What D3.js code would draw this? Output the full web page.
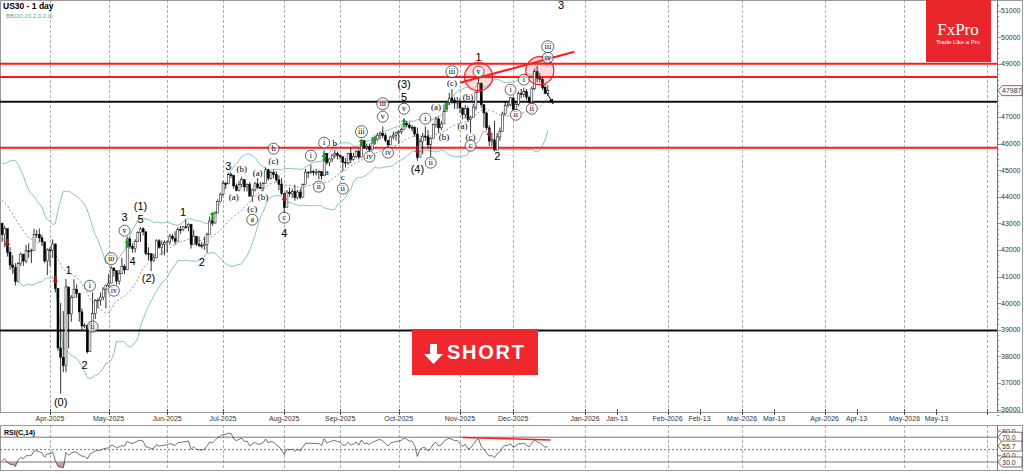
<!DOCTYPE html>
<html>
<head>
<meta charset="utf-8">
<script src="https://cdn.jsdelivr.net/npm/d3@7"></script>
<style>
  body { margin: 0; background: #fff; }
  svg { display: block; font-family: "Liberation Sans", Arial, sans-serif; }
  .axis-label { font-size: 7px; fill: #333; }
  .wave-n { font-size: 11px; fill: #000; }
  .wave-p { font-family: "Liberation Serif", "Times New Roman", serif; font-size: 9px; fill: #000; }
  .wave-c { font-family: "Liberation Serif", "Times New Roman", serif; font-size: 8px; fill: #000; }
</style>
</head>
<body>
<svg id="chart" width="1024" height="474"></svg>
<script>
// ---- data ----
var warmupCloses = [44873,44747,44303,44470,44593,44368,44711,44546,44560,44556,44628,44177,43428,43461,43621,43433,43240,43841,43191,42521,43006];

// daily bars, 2025-03-06 .. 2025-12-18 (weekdays)
var closes = [
  42579,42802,41912,41433,41350,40813,41488,41841,41581,41965,41953,41985,42583,42587,42455,42300,41584,42002,
  41989,42226,40545,38315,37966,37646,40609,39594,40213,40524,40368,39669,39142,39150,38170,39187,39606,40093,40113,40227,40527,40669,
  40752,41317,41218,40829,41113,41368,41249,42410,42140,42051,42322,42654,42792,42677,41860,41859,41603,41700,42343,42098,42215,42270,
  42305,42519,42427,42319,42762,42761,42867,42865,42967,42197,42515,42215,42171,42150,42206,42581,43089,43008,43386,43819,44094,
  44494,44484,44828,44800,44406,44240,44458,44650,44371,44459,44023,44254,44484,44342,44323,44502,45010,44693,44901,44837,44632,44461,44130,
  43588,44173,44111,44193,43968,44175,43975,44458,44922,44911,44946,44912,44922,44938,44785,45631,45282,45418,45565,45636,45545,
  45500,45295,45271,45621,45401,45514,45711,45490,46108,45834,45883,45758,46018,46142,46315,46381,46292,46121,45947,46247,46316,46398,
  46441,46519,46758,46695,46603,46602,46358,45479,46068,46270,46253,45952,46191,46707,46924,46590,46735,47207,47545,47706,47632,47522,47563,
  47337,47085,47311,46912,46987,47368,47928,48254,47457,47147,46590,46092,46138,45752,46245,46448,47112,47427,47450,47716,
  47289,47474,47882,47851,47955,47739,47560,48057,48704,48458,48416,48114,47885,47987
];
var highs = [
  43000,42900,42650,42100,41800,41500,41550,41900,41800,42200,42250,42050,42800,42750,42800,42550,42200,42050,
  42100,42400,41700,40500,40000,39700,40900,40500,40300,40900,40700,40300,39800,39250,39100,39300,40400,40150,40200,40400,40600,40700,
  41100,41400,41350,41100,41250,41700,41450,42500,42500,42250,42400,42700,42850,42850,42700,42100,41750,41850,42400,42400,42350,42350,
  42350,42600,42600,42700,42850,42900,42900,43150,43000,42800,42750,42500,42500,42300,42500,42650,43250,43200,43450,43900,44150,
  44600,44550,44900,44900,44800,44500,44600,44750,44500,44500,44550,44300,44550,44700,44550,44550,45100,45050,44950,45000,44950,44800,44700,
  43950,44250,44350,44300,44450,44250,44300,44500,45050,44950,45200,45000,45050,45000,44950,45750,45600,45450,45600,45750,45700,
  45600,45500,45450,45650,45850,45650,45750,45800,46150,46100,46000,46000,46250,46300,46400,46450,46650,46400,46100,46300,46450,46450,
  46500,46600,46950,46850,46800,46700,46650,46600,46200,46400,46650,46500,46250,46750,47000,47000,46850,47450,47600,47900,48050,47750,47750,
  47700,47350,47450,47400,47050,47500,48000,48550,48300,47450,47200,46700,46400,46850,46400,46600,47200,47600,47550,47750,
  47600,47600,47950,48050,48100,48050,47800,48150,48800,48900,48650,48500,48250,48200
];
var lows = [
  42300,42100,41750,41250,41100,40660,40900,41400,41400,41500,41700,41500,42200,42450,42300,42150,41500,41050,
  41400,41700,40400,38200,36600,37400,37400,38300,39300,40200,40200,39300,39000,39050,38100,38300,39400,39400,39800,39900,40100,39800,
  40600,40900,41000,40700,40700,41100,41100,41900,42050,41900,41900,42300,42300,42550,41800,41600,41200,41550,41800,42050,41800,41800,
  41900,42200,42350,42200,42500,42600,42700,42800,42700,42050,42250,42150,42100,42050,42000,41900,42800,42900,43000,43400,43800,
  44050,44300,44500,44700,44300,44200,44200,44350,44200,44200,44000,43800,44200,44300,44300,44200,44550,44600,44650,44700,44550,44250,44050,
  43350,43650,44000,43950,43850,43900,43900,44000,44500,44700,44850,44800,44800,44650,44650,44800,45200,45150,45300,45450,45400,
  45400,44950,45100,45200,45250,45350,45450,45400,45550,45800,45750,45700,45750,45950,46100,46150,46200,46050,45750,45950,46150,46100,
  46000,46350,46500,46600,46550,46450,46250,45350,45700,45600,46100,45800,45500,46200,46600,46400,46500,46950,47250,47450,47500,47300,47300,
  47150,46900,46950,46800,46400,47050,47250,47950,47350,46600,46500,45900,45900,45700,45750,46100,46450,47050,47350,47400,
  47200,47250,47400,47700,47750,47650,47500,47500,48000,48300,48300,48000,47850,47800
];

var priceTicks = [36000,37000,38000,39000,40000,41000,42000,43000,44000,45000,46000,47000,48000,49000,50000,51000];
var lastPrice = 47987;
var rsiLabels = [80, 70, 55.7, 40, 30];
var rsiBoxed = [false, true, true, false, true];

var tickDates = ["2025-04-01","2025-05-01","2025-06-02","2025-07-01","2025-08-01","2025-09-01","2025-10-01","2025-11-03","2025-12-01",
  "2026-01-01","2026-01-13","2026-02-01","2026-02-13","2026-03-01","2026-03-13","2026-04-01","2026-04-13","2026-05-01","2026-05-13","2026-06-01"];
var tickLabels = ["Apr-2025","May-2025","Jun-2025","Jul-2025","Aug-2025","Sep-2025","Oct-2025","Nov-2025","Dec-2025",
  "Jan-2026","Jan-13","Feb-2026","Feb-13","Mar-2026","Mar-13","Apr-2026","Apr-13","May-2026","May-13",""];

var levelPrices = [49000, 48500, 47570, 45840, 38970];
var levelKinds = ["red","red","black","red","black"];

var trendDates = ["2025-11-03","2025-12-28"];
var trendPrices = [48286, 49451];
var circleDates = ["2025-11-12","2025-12-15"];
var circlePrices = [48511, 48737];
var arrowDates = ["2025-12-16","2025-12-20"];
var arrowPrices = [48180, 47500];
var rsiTrendDates = ["2025-11-04","2025-12-19"];
var rsiTrendValues = [69.5, 65.5];

// wave labels: date, price, text, kind (n = number, p = (x) letter, c = circled, l = plain letter)
var waveLabels = [
  ["2025-04-07",36294,"(0)","n"],["2025-04-10",41256,"1","n"],["2025-04-22",40655,"i","c"],["2025-04-23",39114,"ii","c"],
  ["2025-04-18",37685,"2","n"],["2025-05-02",41670,"iii","c"],["2025-05-05",40467,"iv","c"],["2025-05-09",42722,"v","c"],
  ["2025-05-09",43249,"3","n"],["2025-05-19",43662,"(1)","n"],["2025-05-19",43174,"5","n"],["2025-05-14",41595,"4","n"],
  ["2025-05-22",40956,"(2)","n"],["2025-06-10",43437,"1","n"],["2025-06-19",41557,"2","n"],["2025-07-03",45166,"3","n"],
  ["2025-07-07",44000,"(a)","p"],["2025-07-10",45053,"(b)","p"],["2025-07-18",44903,"(a)","p"],["2025-07-16",43549,"(c)","p"],
  ["2025-07-16",43136,"a","c"],["2025-07-22",44000,"(b)","p"],["2025-07-28",45354,"(c)","p"],["2025-07-28",45805,"b","c"],
  ["2025-08-01",43211,"c","c"],["2025-08-01",42647,"4","n"],["2025-08-15",45542,"i","c"],["2025-08-20",44376,"ii","c"],
  ["2025-08-22",46030,"i","c"],["2025-08-25",44940,"a","l"],["2025-08-28",46030,"b","l"],["2025-09-02",44752,"c","l"],
  ["2025-09-02",44301,"ii","c"],["2025-09-11",46444,"iii","c"],["2025-09-16",45504,"iv","c"],["2025-09-23",47008,"v","c"],
  ["2025-09-23",47496,"iii","c"],["2025-09-25",45654,"iv","c"],["2025-10-03",47308,"v","c"],["2025-10-03",47760,"5","n"],
  ["2025-10-03",48248,"(3)","n"],["2025-10-10",45053,"(4)","n"],["2025-10-17",45279,"ii","c"],["2025-10-15",46933,"i","c"],
  ["2025-10-21",47384,"(a)","p"],["2025-10-24",46256,"(b)","p"],["2025-10-29",48699,"iii","c"],["2025-10-29",48286,"(c)","p"],
  ["2025-11-06",47760,"(b)","p"],["2025-11-04",46669,"(a)","p"],["2025-11-07",46256,"(c)","p"],["2025-11-07",45918,"c","c"],
  ["2025-11-12",48699,"v","c"],["2025-11-12",49263,"1","n"],["2025-11-21",45542,"2","n"],["2025-11-28",48023,"i","c"],
  ["2025-12-02",47083,"ii","c"],["2025-12-05",48399,"i","c"],["2025-12-10",47308,"ii","c"],
  ["2025-12-18",49639,"iii","c"],["2025-12-18",49226,"iv","c"],["2025-12-23",51200,"3","n"]
];

// signal arrows: date, price, direction
var signals = [
  ["2025-03-10",42271,"dn"],["2025-04-03",40880,"dn"],["2025-05-12",42234,"up"],["2025-06-25",43286,"up"],
  ["2025-08-01",43963,"dn"],["2025-08-22",45467,"up"],["2025-09-11",46030,"up"],["2025-09-18",46143,"up"],
  ["2025-10-03",46782,"up"],["2025-10-10",45767,"dn"],["2025-10-27",47421,"up"],["2025-11-18",46406,"dn"]
];

// ---- layout ----
var svg = d3.select("#chart");
var plotRight = 997, frameRight = 1022;
var priceBottom = 412, dateBottom = 425, rsiBottom = 470;

// slots: weekdays for history, calendar days for the future
var fmt = d3.timeFormat("%Y-%m-%d");
var hist = d3.timeDay.range(new Date(2025,2,6), new Date(2025,11,19)).filter(function(d){ return d.getDay() > 0 && d.getDay() < 6; });
var fut = d3.timeDay.range(new Date(2025,11,19), new Date(2026,5,20));
var slot = {};
hist.concat(fut).forEach(function(d, i){ slot[fmt(d)] = i; });

var x = d3.scaleLinear().domain([18, 370]).range([50, 987]);
var y = d3.scaleLinear().domain([36000, 51000]).range([409.5, 10.5]);
var yr = d3.scaleLinear().domain([30, 80]).range([462, 431]);
function xd(s) { return x(slot[s]); }

// indicators
var all = warmupCloses.concat(closes);
var off = warmupCloses.length;
var bb = closes.map(function(c, i) {
  var w = all.slice(i + off - 19, i + off + 1);
  var m = d3.mean(w);
  var sd = Math.sqrt(d3.mean(w, function(v){ return (v - m) * (v - m); }));
  return {i: i, mid: m, up: m + 2 * sd, lo: m - 2 * sd};
});
var rsi = [];
(function() {
  var ag = 0, al = 0;
  for (var k = 1; k < all.length; k++) {
    var ch = all[k] - all[k-1];
    var g = Math.max(ch, 0), l = Math.max(-ch, 0);
    if (k <= 14) { ag += g / 14; al += l / 14; }
    else { ag = (ag * 13 + g) / 14; al = (al * 13 + l) / 14; }
    if (k >= off) rsi.push({i: k - off, v: al === 0 ? 100 : 100 - 100 / (1 + ag / al)});
  }
})();

// frames
svg.append("rect").attr("x", 0.5).attr("y", 0.5).attr("width", frameRight).attr("height", priceBottom)
  .attr("fill", "none").attr("stroke", "#999");
svg.append("rect").attr("x", 0.5).attr("y", dateBottom + 0.5).attr("width", frameRight).attr("height", rsiBottom - dateBottom)
  .attr("fill", "none").attr("stroke", "#999");

var defs = svg.append("defs");
defs.append("clipPath").attr("id", "pclip").append("rect").attr("x", 0).attr("y", 0).attr("width", plotRight).attr("height", priceBottom);
defs.append("clipPath").attr("id", "rclip").append("rect").attr("x", 0).attr("y", dateBottom).attr("width", plotRight).attr("height", rsiBottom - dateBottom);

// vertical grid
var gridDates = tickDates.filter(function(d, i){ return tickLabels[i].indexOf("-13") < 0; });
[[0, priceBottom], [dateBottom, rsiBottom]].forEach(function(r) {
  svg.append("g").selectAll("line").data(gridDates).enter().append("line")
    .attr("x1", function(d){ return Math.round(xd(d)) + 0.5; }).attr("x2", function(d){ return Math.round(xd(d)) + 0.5; })
    .attr("y1", r[0]).attr("y2", r[1]).attr("stroke", "#999").attr("stroke-dasharray", "3,2").attr("stroke-width", 0.8);
});

// date axis
var dAxis = svg.append("g");
dAxis.selectAll("line").data(tickDates).enter().append("line")
  .attr("x1", function(d){ return Math.round(xd(d)) + 0.5; }).attr("x2", function(d){ return Math.round(xd(d)) + 0.5; })
  .attr("y1", priceBottom - 3).attr("y2", priceBottom + 3).attr("stroke", "#555");
dAxis.selectAll("text").data(tickDates).enter().append("text").attr("class", "axis-label")
  .attr("x", function(d){ return xd(d); }).attr("y", 421).attr("text-anchor", "middle")
  .text(function(d, i){ return tickLabels[i]; });

// price axis
svg.append("line").attr("x1", plotRight + 0.5).attr("x2", plotRight + 0.5).attr("y1", 0).attr("y2", priceBottom).attr("stroke", "#777");
svg.append("line").attr("x1", plotRight + 0.5).attr("x2", plotRight + 0.5).attr("y1", dateBottom).attr("y2", rsiBottom).attr("stroke", "#777");
var minor = d3.range(35800, 51400, 200);
svg.append("g").selectAll("line").data(minor).enter().append("line")
  .attr("x1", plotRight).attr("x2", function(d){ return plotRight + (d % 1000 === 0 ? 4 : 2); })
  .attr("y1", function(d){ return Math.round(y(d)) + 0.5; }).attr("y2", function(d){ return Math.round(y(d)) + 0.5; })
  .attr("stroke", "#666").attr("stroke-width", 0.7);
svg.append("g").selectAll("text").data(priceTicks).enter().append("text").attr("class", "axis-label")
  .attr("x", 1001).attr("y", function(d){ return y(d) + 2.5; }).text(function(d){ return d; });

function tagBox(g, yy, label) {
  g.append("path").attr("d", "M" + (plotRight + 1) + "," + yy + "l4,-5h20v10h-20z")
    .attr("fill", "#fff").attr("stroke", "#333").attr("stroke-width", 0.7);
  g.append("text").attr("class", "axis-label").attr("x", plotRight + 5).attr("y", yy + 2.5).attr("fill", "#000").text(label);
}
tagBox(svg.append("g"), y(lastPrice), lastPrice);

// price panel content
var pg = svg.append("g").attr("clip-path", "url(#pclip)");

// bollinger bands
var bbLine = function(key) { return d3.line().x(function(d){ return x(d.i); }).y(function(d){ return y(d[key]); }); };
pg.append("path").datum(bb).attr("d", bbLine("up")).attr("fill", "none").attr("stroke", "#86c4c4").attr("stroke-width", 1);
pg.append("path").datum(bb).attr("d", bbLine("lo")).attr("fill", "none").attr("stroke", "#86c4c4").attr("stroke-width", 1);
pg.append("path").datum(bb).attr("d", bbLine("mid")).attr("fill", "none").attr("stroke", "#777").attr("stroke-width", 0.8).attr("stroke-dasharray", "2,2");

// level lines
pg.selectAll(".lvl").data(levelPrices).enter().append("line")
  .attr("x1", 0).attr("x2", plotRight)
  .attr("y1", function(d){ return y(d); }).attr("y2", function(d){ return y(d); })
  .attr("stroke", function(d, i){ return levelKinds[i] === "red" ? "#ff1a1a" : "#111"; }).attr("stroke-width", 2);

// candles
var bars = closes.map(function(c, i) {
  return {i: i, o: i ? closes[i-1] : warmupCloses[warmupCloses.length - 1], h: highs[i], l: lows[i], c: c};
});
var cg = pg.append("g");
cg.selectAll(".wick").data(bars).enter().append("line")
  .attr("x1", function(d){ return x(d.i); }).attr("x2", function(d){ return x(d.i); })
  .attr("y1", function(d){ return y(d.h); }).attr("y2", function(d){ return y(d.l); })
  .attr("stroke", "#000").attr("stroke-width", 0.8);
cg.selectAll(".body").data(bars).enter().append("rect")
  .attr("x", function(d){ return x(d.i) - 1; }).attr("width", 2)
  .attr("y", function(d){ return y(Math.max(d.o, d.c)); })
  .attr("height", function(d){ return Math.max(0.8, Math.abs(y(d.o) - y(d.c))); })
  .attr("fill", function(d){ return d.c >= d.o ? "#fff" : "#000"; })
  .attr("stroke", "#000").attr("stroke-width", 0.5);

// signals
pg.selectAll(".sig").data(signals).enter().append("path")
  .attr("transform", function(d){ return "translate(" + xd(d[0]) + "," + y(d[1]) + ")"; })
  .attr("d", function(d){ return d[2] === "up" ? "M0,-4L3,-1H1V4H-1V-1H-3Z" : "M0,4L3,1H1V-4H-1V1H-3Z"; })
  .attr("fill", function(d){ return d[2] === "up" ? "#1a9e1a" : "#a01818"; });

// trend line, circles, arrow
pg.append("line").attr("x1", xd(trendDates[0])).attr("y1", y(trendPrices[0]))
  .attr("x2", xd(trendDates[1])).attr("y2", y(trendPrices[1])).attr("stroke", "#ff1a1a").attr("stroke-width", 2);
pg.selectAll(".circ").data(circleDates).enter().append("circle")
  .attr("cx", function(d){ return xd(d); }).attr("cy", function(d, i){ return y(circlePrices[i]); }).attr("r", 14)
  .attr("fill", "rgba(255,60,60,0.18)").attr("stroke", "#ff1a1a").attr("stroke-width", 1.2);
defs.append("marker").attr("id", "ah").attr("viewBox", "0 0 10 10").attr("refX", 9).attr("refY", 5)
  .attr("markerWidth", 5).attr("markerHeight", 5).attr("orient", "auto")
  .append("path").attr("d", "M0,0L10,5L0,10z").attr("fill", "#000");
pg.append("line").attr("x1", xd(arrowDates[0])).attr("y1", y(arrowPrices[0]))
  .attr("x2", xd(arrowDates[1])).attr("y2", y(arrowPrices[1])).attr("stroke", "#000").attr("stroke-width", 1)
  .attr("marker-end", "url(#ah)");

// wave labels
var wl = svg.append("g").selectAll("g").data(waveLabels).enter().append("g")
  .attr("transform", function(d){ return "translate(" + xd(d[0]) + "," + y(d[1]) + ")"; });
wl.filter(function(d){ return d[3] === "c"; }).append("circle")
  .attr("r", function(d){ return d[2].length > 2 ? 6 : 5.5; }).attr("fill", "rgba(255,255,255,0.6)").attr("stroke", "#222").attr("stroke-width", 0.7);
wl.append("text")
  .attr("class", function(d){ return d[3] === "n" ? "wave-n" : d[3] === "c" ? "wave-c" : "wave-p"; })
  .attr("text-anchor", "middle").attr("dy", function(d){ return d[3] === "n" ? "0.36em" : "0.32em"; })
  .text(function(d){ return d[2]; });

// titles
svg.append("text").attr("x", 3).attr("y", 9).attr("font-size", 8.5).attr("font-weight", "bold").text("US30 - 1 day");
svg.append("text").attr("x", 6).attr("y", 18).attr("font-size", 6).attr("fill", "#5aa8a8").text("BB(20,20,2.0,2.0)");

// logo
svg.append("rect").attr("x", 926).attr("y", 0).attr("width", 65).attr("height", 62).attr("fill", "#e8262c");
svg.append("text").attr("x", 958).attr("y", 35).attr("text-anchor", "middle").attr("fill", "#fff")
  .attr("font-family", "'Liberation Serif', 'Times New Roman', serif").attr("font-size", 17).text("FxPro");
svg.append("text").attr("x", 958).attr("y", 44).attr("text-anchor", "middle").attr("fill", "#fff")
  .attr("font-size", 6).text("Trade Like a Pro");

// SHORT badge
var sb = svg.append("g").attr("transform", "translate(412,329)");
sb.append("rect").attr("width", 126).attr("height", 46).attr("fill", "#f0282e");
sb.append("path").attr("d", "M18,15h7v10h6l-9.5,10l-9.5,-10h6z").attr("fill", "#fff");
sb.append("text").attr("x", 35).attr("y", 29.5).attr("fill", "#fff").attr("font-size", 20).attr("font-weight", "bold")
  .attr("textLength", 77).text("SHORT");

// RSI panel
svg.append("text").attr("x", 4).attr("y", 435).attr("font-size", 7).attr("font-weight", "bold").text("RSI(C,14)");
var rg = svg.append("g").attr("clip-path", "url(#rclip)");
[70, 50, 30].forEach(function(v) {
  rg.append("line").attr("x1", 0).attr("x2", plotRight).attr("y1", yr(v)).attr("y2", yr(v))
    .attr("stroke", "#555").attr("stroke-width", 0.8).attr("stroke-dasharray", v === 50 ? "2,2" : null);
});
rg.append("path").datum(rsi).attr("fill", "#c9a0a0")
  .attr("d", d3.area().x(function(d){ return x(d.i); }).y0(yr(30)).y1(function(d){ return yr(Math.min(d.v, 30)); }));
rg.append("path").datum(rsi).attr("fill", "none").attr("stroke", "#333").attr("stroke-width", 0.7)
  .attr("d", d3.line().x(function(d){ return x(d.i); }).y(function(d){ return yr(d.v); }));
rg.append("line").attr("x1", xd(rsiTrendDates[0])).attr("y1", yr(rsiTrendValues[0]))
  .attr("x2", xd(rsiTrendDates[1])).attr("y2", yr(rsiTrendValues[1])).attr("stroke", "#ff1a1a").attr("stroke-width", 1.5);

var rl = svg.append("g");
rsiLabels.forEach(function(v, i) {
  var yy = yr(v);
  if (rsiBoxed[i]) tagBox(rl, yy, v.toFixed(1));
  else {
    rl.append("line").attr("x1", plotRight).attr("x2", plotRight + 4).attr("y1", yy).attr("y2", yy).attr("stroke", "#666");
    rl.append("text").attr("class", "axis-label").attr("x", plotRight + 5).attr("y", yy + 2.5).text(v.toFixed(1));
  }
});
</script>
</body>
</html>
